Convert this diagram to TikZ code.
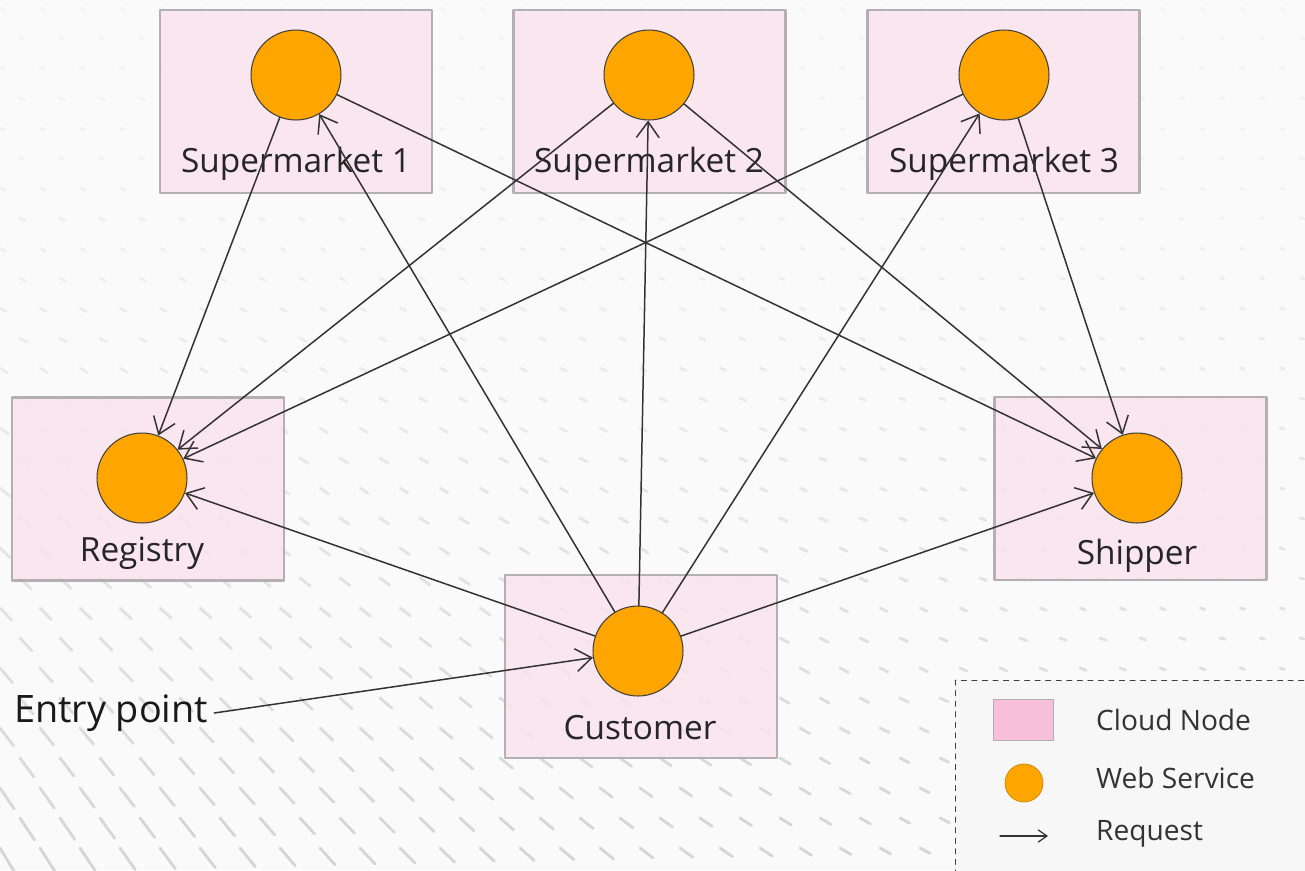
\documentclass[tikz,border=0pt]{standalone}
\usepackage{fontspec}
\setmainfont{Open Sans}
\usetikzlibrary{arrows.meta}
\definecolor{nodepink}{HTML}{F9E3EC}
\definecolor{keypink}{HTML}{F8BFDA}
\definecolor{svcorange}{HTML}{FFA500}
\definecolor{boxgray}{HTML}{B4B0B2}
\begin{document}
\begin{tikzpicture}[x=0.02cm, y=-0.02cm, line join=round, line cap=round,
  >={Straight Barb[length=9pt,width=13pt]},
  cloud/.style={draw=boxgray, line width=1.2pt, fill=nodepink, fill opacity=0.85,
    minimum width=5.44cm, minimum height=3.66cm, inner sep=0pt},
  svc/.style={circle, draw=black!75, fill=svcorange, minimum size=1.8cm, inner sep=0pt, line width=0.6pt},
  lbl/.style={font=\fontsize{19}{22}\selectfont, text=black!85},
  keytext/.style={anchor=west, font=\fontsize{16}{18}\selectfont, text=black!80},
  req/.style={->, line width=0.85pt, draw=black!80}]
\useasboundingbox (0,0) rectangle (1305,870);
\clip (0,0) rectangle (1305,870);
% backdrop: faint sweeping dashes
\fill[white!96!gray] (0,0) rectangle (1305,870);
\foreach \i in {0,...,32}
  \foreach \j in {0,...,28}{
    \pgfmathsetmacro{\px}{\i*40+mod(\j,2)*20}
    \pgfmathsetmacro{\py}{\j*30+8}
    \pgfmathsetmacro{\ang}{15+45*(\py/870)*(1-\px/1305)}
    \pgfmathsetmacro{\len}{4+26*(\py/870)^2*(1-\px/1305)}
    \pgfmathsetmacro{\op}{0.08+0.45*(\py/870)^1.5}
    \draw[gray!60, line width=1.6pt, opacity=\op] (\px,\py) -- ++(\ang:\len);
  }
% cloud nodes
\node[cloud] (sm1box) at (296,101.5) {};
\node[cloud] (sm2box) at (649.5,101.5) {};
\node[cloud] (sm3box) at (1003.5,101.5) {};
\node[cloud] (regbox) at (148,489) {};
\node[cloud] (shipbox) at (1130.5,488.5) {};
\node[cloud] (custbox) at (641,666.5) {};
\node[lbl] (sm1lbl) at (296,164) {Supermarket 1};
\node[lbl] (sm2lbl) at (649,164) {Supermarket 2};
\node[lbl] (sm3lbl) at (1004,164) {Supermarket 3};
\node[lbl] (reglbl) at (142,553) {Registry};
\node[lbl] (shiplbl) at (1137,556) {Shipper};
\node[lbl] (custlbl) at (640,728) {Customer};
% web services
\node[svc] (sm1) at (296,75) {};
\node[svc] (sm2) at (649,75) {};
\node[svc] (sm3) at (1004,75) {};
\node[svc] (reg) at (142,478) {};
\node[svc] (ship) at (1137,478) {};
\node[svc] (cust) at (638,651) {};
% requests
\foreach \a/\b in {sm1/reg, sm2/reg, sm3/reg, cust/reg, cust/sm1, cust/sm2, cust/sm3,
  cust/ship, sm1/ship, sm2/ship, sm3/ship}
  \draw[req] (\a) -- (\b);
\node[anchor=west, font=\fontsize{21.5}{24}\selectfont, text=black!90] (entry) at (8,713) {Entry point};
\draw[req] (entry.east) -- (cust);
% legend
\draw[dashed, black!75, fill=white!94!gray] (955,680) rectangle (1320,890);
\node[draw=boxgray, fill=keypink, minimum width=1.2cm, minimum height=0.82cm, inner sep=0pt] (keybox) at (1023,720) {};
\node[circle, draw=svcorange!80!black, fill=svcorange, minimum size=0.76cm, inner sep=0pt] (keysvc) at (1024,783) {};
\coordinate (keyfrom) at (1000,836);
\coordinate (keyto) at (1048,836);
\draw[->, line width=0.7pt, black!80, >={Straight Barb[length=5pt,width=7pt]}] (keyfrom) -- (keyto);
\node[keytext] (keyboxlbl) at (1090,720) {Cloud Node};
\node[keytext] (keysvclbl) at (1090,778) {Web Service};
\node[keytext] (keyreqlbl) at (1090,834) {Request};
\end{tikzpicture}
\end{document}
